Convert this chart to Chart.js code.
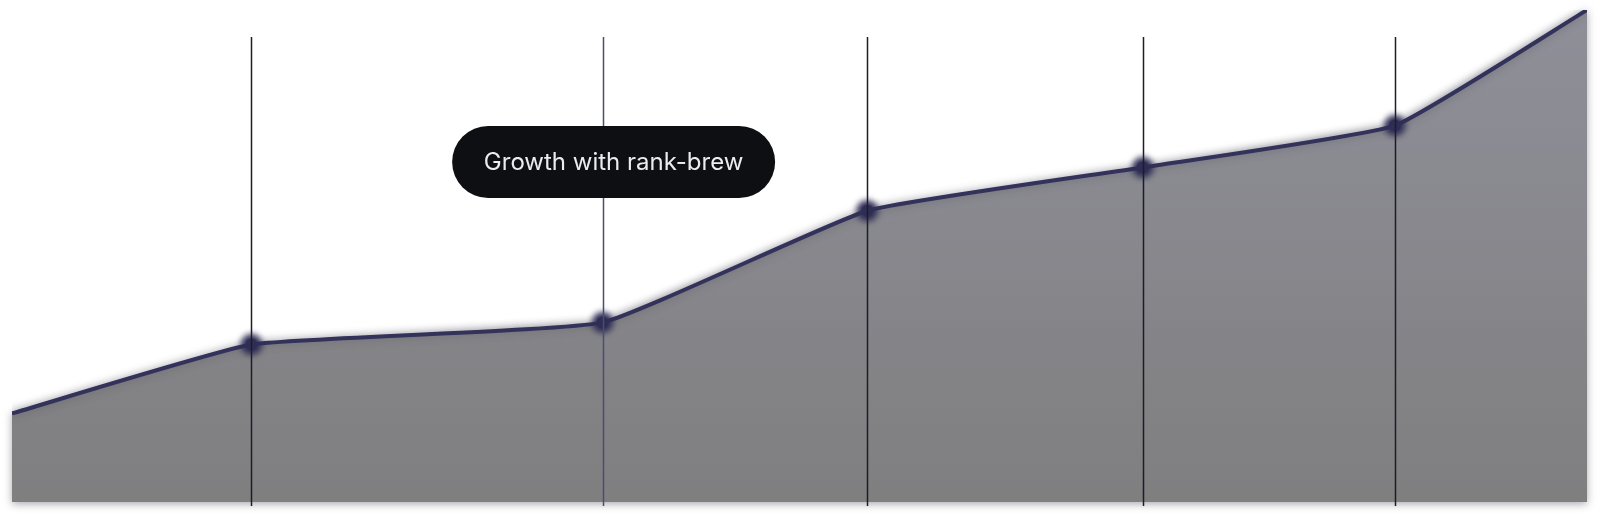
<!DOCTYPE html>
<html>
<head>
<meta charset="utf-8">
<script src="https://cdn.jsdelivr.net/npm/chart.js@4"></script>
<style>
  html, body { margin: 0; padding: 0; background: #ffffff; }
  #wrap { width: 1600px; height: 516px; }
</style>
</head>
<body>
<div id="wrap"><canvas id="graph"></canvas></div>
<script>
// positions along the timeline (percent of width) and growth (percent of height)
const xValues = [0, 15.2, 37.5, 54.3, 71.8, 87.8, 100];
const growth = [18.0, 32.0, 36.5, 59.2, 68.0, 76.5, 100];
const markerIdx = [1, 2, 3, 4, 5];
const tooltipText = "Growth with rank-brew";
const tooltipAt = 2;

const points = xValues.map((x, i) => ({ x: x, y: growth[i] }));

const lineColor = "#33325a";
const guideColors = ["#1c1c2a", "#4a4d6e", "#1c1c2a", "#1c1c2a", "#1c1c2a"];

const shadowPlugin = {
  id: "shadow",
  beforeDatasetsDraw(chart) {
    // blurred halo under the filled area (the filler is clipped to chartArea)
    const c = chart.ctx;
    const meta = chart.getDatasetMeta(0);
    const area = chart.chartArea;
    c.save();
    c.filter = "blur(4px)";
    c.fillStyle = "rgba(110, 110, 120, 0.6)";
    c.beginPath();
    meta.data.forEach((p, i) => {
      if (i === 0) c.moveTo(p.x, p.y);
      else c.lineTo(p.x, p.y);
    });
    c.lineTo(meta.data[meta.data.length - 1].x, area.bottom + 2);
    c.lineTo(meta.data[0].x, area.bottom + 2);
    c.closePath();
    c.fill();
    c.restore();
  },
  beforeDatasetDraw(chart) {
    const c = chart.ctx;
    c.save();
    c.shadowColor = "rgba(70, 70, 85, 0.45)";
    c.shadowBlur = 8;
    c.shadowOffsetY = 0;
  },
  afterDatasetDraw(chart) {
    chart.ctx.restore();
  }
};

const guidesPlugin = {
  id: "guides",
  afterDatasetsDraw(chart) {
    const c = chart.ctx;
    const meta = chart.getDatasetMeta(0);
    const area = chart.chartArea;
    // soft glow around the markers
    c.save();
    c.filter = "blur(3px)";
    c.fillStyle = "#2e2d55";
    markerIdx.forEach((idx) => {
      const p = meta.data[idx];
      c.beginPath();
      c.arc(p.x, p.y, 10.5, 0, Math.PI * 2);
      c.fill();
    });
    c.restore();

    c.save();
    c.lineWidth = 1.5;
    markerIdx.forEach((idx, k) => {
      const px = Math.round(meta.data[idx].x) + 0.5;
      c.strokeStyle = guideColors[k];
      c.beginPath();
      c.moveTo(px, area.top + 27);
      c.lineTo(px, area.bottom + 4);
      c.stroke();
    });
    c.restore();
  },
  afterDraw(chart) {
    // static label pill
    const c = chart.ctx;
    const pt = chart.getDatasetMeta(0).data[tooltipAt];
    const w = 323, h = 72;
    const cx = pt.x + 11;
    const cy = chart.chartArea.top + 152;
    const x0 = cx - w / 2, y0 = cy - h / 2, r = h / 2;
    c.save();
    c.fillStyle = "#0e0f13";
    c.beginPath();
    c.moveTo(x0 + r, y0);
    c.lineTo(x0 + w - r, y0);
    c.arc(x0 + w - r, cy, r, -Math.PI / 2, Math.PI / 2);
    c.lineTo(x0 + r, y0 + h);
    c.arc(x0 + r, cy, r, Math.PI / 2, Math.PI * 1.5);
    c.closePath();
    c.fill();
    c.fillStyle = "#ececef";
    c.font = "400 24px Inter, 'Noto Sans', sans-serif";
    c.textAlign = "center";
    c.textBaseline = "middle";
    c.fillText(tooltipText, cx, cy + 1);
    c.restore();
  }
};

const ctx = document.getElementById("graph").getContext("2d");

const chart = new Chart(ctx, {
  type: "line",
  data: {
    datasets: [
      {
        label: tooltipText,
        data: points,
        fill: "start",
        backgroundColor: (context) => {
          const area = context.chart.chartArea;
          if (!area) return "#88888e";
          const g = context.chart.ctx.createLinearGradient(0, area.top, 0, area.bottom);
          g.addColorStop(0, "#8f8f99");
          g.addColorStop(1, "#7f7f80");
          return g;
        },
        borderColor: lineColor,
        borderWidth: 4,
        tension: 0.12,
        pointRadius: (context) => (markerIdx.includes(context.dataIndex) ? 6 : 0),
        pointBackgroundColor: "#36355c",
        pointBorderWidth: 0,
        pointHoverRadius: 6,
      },
    ],
  },
  options: {
    responsive: true,
    maintainAspectRatio: false,
    animation: false,
    layout: {
      padding: { left: 12, right: 13, top: 10, bottom: 14 }
    },
    scales: {
      x: { type: "linear", min: 0, max: 100, display: false },
      y: { min: 0, max: 100, display: false },
    },
    plugins: {
      legend: { display: false },
      tooltip: { enabled: false },
    },
  },
  plugins: [shadowPlugin, guidesPlugin],
});
</script>
</body>
</html>
